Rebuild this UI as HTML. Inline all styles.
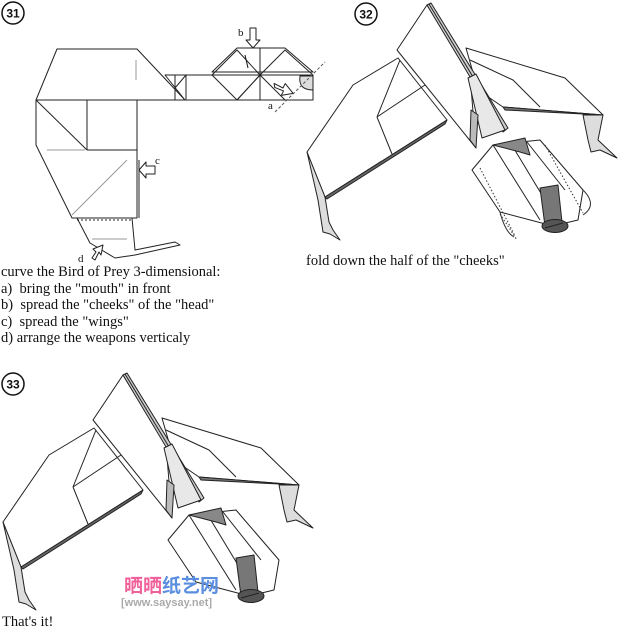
<!DOCTYPE html>
<html><head><meta charset="utf-8"><style>
body{margin:0;background:#fff;width:620px;height:636px;overflow:hidden;position:relative}
svg{position:absolute;left:0;top:0}
.t{position:absolute;font-family:"Liberation Serif",serif;font-size:14.5px;color:#111;line-height:16.6px;white-space:pre}
</style></head><body>
<svg width="620" height="636" viewBox="0 0 620 636" fill="none" stroke="#222" stroke-width="1" stroke-linejoin="round">
<defs>
<g id="bird">
 <polygon points="307,152 353,85 398,58 447,120 325,197" fill="#fff"/>
 <polygon points="307,152 325,197 329,222 333,230 340,240 330,234 323,232 318,200" fill="#ddd"/>
 <polygon points="325,197 447,120 445,124 327,199" fill="#666"/>
 <polyline points="377,117 425,85"/>
 <line x1="377" y1="117" x2="392" y2="154"/>
 <line x1="377" y1="117" x2="400" y2="60"/>
 <polygon points="466,48 565,78 603,115 503,107 478,90" fill="#fff"/>
 <polyline points="470,60 513,80 540,107"/>
 <polygon points="503,107 603,115 505,110" fill="#777"/>
 <polygon points="583,115 603,115 598,140 617,158 600,150 591,152 588,140" fill="#ddd"/>
 <polygon points="397,50 427,5 470,75 476,148" fill="#fff"/>
 <polygon points="427,5 431,3 508,128 503,132" fill="#ccc"/>
 <line x1="429" y1="4" x2="505" y2="130"/>
 <polygon points="468,78 476,74 505,130 482,138" fill="#e8e8e8"/>
 <polygon points="471,110 478,115 476,148 470,140" fill="#bbb"/>
 <polygon points="472,170 493,145 540,140 583,190 578,220 553,226 500,212" fill="#fff"/>
 <line x1="493" y1="145" x2="540" y2="220"/>
 <line x1="510" y1="142" x2="545" y2="200"/>
 <line x1="527" y1="142" x2="565" y2="190"/>
 <polygon points="493,145 525,138 530,155 520,152" fill="#888"/>
 <polygon points="540,188 558,185 562,222 545,226" fill="#777"/>
 <ellipse cx="555" cy="226" rx="13" ry="6.5" fill="#555"/>
 <line x1="545" y1="228" x2="563" y2="223" stroke="#222"/>
</g>
</defs>

<g font-family="Liberation Sans,sans-serif" font-size="12" font-weight="bold" fill="#111" stroke="none" text-anchor="middle">
<circle cx="13" cy="13" r="11" stroke="#111" stroke-width="1.5" fill="#fff"/><text x="13" y="17.5">31</text>
<circle cx="366" cy="14" r="11" stroke="#111" stroke-width="1.5" fill="#fff"/><text x="366" y="18.5">32</text>
<circle cx="13" cy="384" r="11" stroke="#111" stroke-width="1.5" fill="#fff"/><text x="13" y="388.5">33</text>
</g>

<polygon points="36,100 57,49 137,49 185,100" fill="#fff"/>
<polygon points="165,75 313,75 313,100 185,100" fill="#fff"/>
<polygon points="212,72 237,48 285,48 313,72" fill="#fff"/>
<line x1="185" y1="100" x2="290" y2="100"/>
<line x1="175" y1="75" x2="175" y2="100"/><line x1="186" y1="75" x2="186" y2="100"/>
<line x1="175" y1="88" x2="186" y2="75"/>
<polyline points="212,75 237,100 260,75 237,50 212,75"/>
<polyline points="237,100 260,75 285,100"/>
<line x1="260" y1="48" x2="260" y2="100"/>
<polyline points="260,75 285,50 313,75"/>
<line x1="212" y1="72" x2="313" y2="72" stroke-dasharray="2,2"/>
<line x1="36" y1="101" x2="137" y2="101" stroke-dasharray="2,2"/>
<line x1="136" y1="60" x2="136" y2="80" stroke="#999"/>
<path d="M300,76 Q298,90 313,90 L313,76 Z" fill="#ddd"/>
<line x1="275" y1="112" x2="325" y2="62" stroke="#555" stroke-dasharray="3,2"/>
<polygon points="36,100 137,100 137,218 72,218 36,145" fill="#fff"/>
<line x1="87" y1="100" x2="87" y2="150"/><line x1="87" y1="150" x2="137" y2="150"/>
<line x1="36" y1="100" x2="87" y2="150"/>
<line x1="72" y1="215" x2="127" y2="160" stroke="#999"/>
<line x1="47" y1="150" x2="85" y2="150" stroke="#999"/>
<line x1="139" y1="160" x2="139" y2="218"/>
<polyline points="77,218 90,243 115,258 135,255 180,245 175,242 135,250 132,218"/>
<line x1="77" y1="220" x2="132" y2="220" stroke-dasharray="2,2"/>
<line x1="92" y1="239" x2="127" y2="239" stroke="#999"/>
<polygon points="250,28 256,28 256,40 260,40 253,48 246,40 250,40" fill="#fff"/>
<polygon points="155,166 155,174 146,174 146,178 139,170 146,162 146,166" fill="#fff"/>
<polygon points="275,82 283,88 286,84 292,95 280,95 283,91 275,86" fill="#fff" transform="rotate(-10 283 88)"/>
<polygon points="92,258 96,252 93,249 103,245 101,255 99,252 95,260" fill="#fff"/>
<path d="M245,55 L248,68" stroke="#111"/>
<g font-family="Liberation Serif,serif" font-size="11" fill="#111" stroke="none">
<text x="238" y="36">b</text><text x="268" y="109">a</text><text x="155" y="164">c</text><text x="78" y="262">d</text>
</g>

<use href="#bird"/>
<g stroke="#333" stroke-dasharray="1.5,2">
<line x1="480" y1="168" x2="515" y2="236"/><line x1="500" y1="214" x2="517" y2="240"/>
<line x1="545" y1="145" x2="583" y2="213"/>
</g>
<path d="M500,212 Q505,232 514,237" stroke="#333"/>
<path d="M583,190 Q598,205 583,215" stroke="#333"/>
<use href="#bird" transform="translate(-304,370)"/>
</svg>

<div class="t" style="left:306px;top:253px">fold down the half of the "cheeks"</div>
<div class="t" style="left:1px;top:264px">curve the Bird of Prey 3-dimensional:
a)  bring the "mouth" in front
b)  spread the "cheeks" of the "head"
c)  spread the "wings"
d) arrange the weapons verticaly</div>
<div class="t" style="left:2px;top:614px">That's it!</div>
<div style="position:absolute;left:124px;top:574px;font-family:'Noto Sans CJK SC',sans-serif;font-size:19px;font-weight:bold;line-height:22px;white-space:nowrap"><span style="color:#f0609a">晒晒</span><span style="color:#5a8ee0">纸艺网</span></div>
<div style="position:absolute;left:121px;top:597px;font-family:'Liberation Sans',sans-serif;font-size:11px;color:#aaa;font-weight:bold;white-space:nowrap">[www.saysay.net]</div>
</body></html>
